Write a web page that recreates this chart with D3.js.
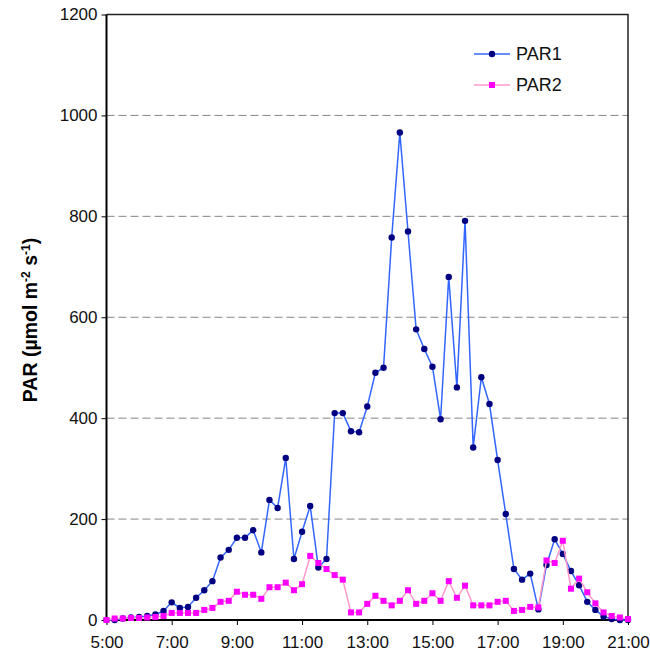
<!DOCTYPE html>
<html>
<head>
<meta charset="utf-8">
<script src="https://cdn.jsdelivr.net/npm/d3@7"></script>
<style>
  html, body { margin: 0; padding: 0; background: #fff; }
  svg { display: block; font-family: "Liberation Sans", Arial, sans-serif; }
</style>
</head>
<body>
<svg id="chart" width="650" height="655"></svg>
<script>
// Sampling times (15-minute readings)
const times = [
  "5:00","5:15","5:30","5:45","6:00","6:15","6:30","6:45",
  "7:00","7:15","7:30","7:45","8:00","8:15","8:30","8:45",
  "9:00","9:15","9:30","9:45","10:00","10:15","10:30","10:45",
  "11:00","11:15","11:30","11:45","12:00","12:15","12:30","12:45",
  "13:00","13:15","13:30","13:45","14:00","14:15","14:30","14:45",
  "15:00","15:15","15:30","15:45","16:00","16:15","16:30","16:45",
  "17:00","17:15","17:30","17:45","18:00","18:15","18:30","18:45",
  "19:00","19:15","19:30","19:45","20:00","20:15","20:30","20:45",
  "21:00"
];

// PAR readings, µmol m-2 s-1
const par1 = [
  0, 0, 3, 5, 6, 8, 11, 18,
  35, 24, 26, 44, 59, 77, 124, 139,
  163, 163, 178, 134, 238, 222, 321, 121,
  175, 226, 104, 121, 410, 410, 374, 372,
  423, 490, 500, 758, 966, 770, 576, 537,
  502, 398, 680, 461, 791, 342, 481, 428,
  317, 210, 101, 80, 92, 21, 109, 160,
  131, 97, 69, 36, 20, 7, 2, 0,
  0
];
const par2 = [
  0, 3, 3, 4, 4, 5, 6, 8,
  14, 14, 14, 14, 20, 24, 36, 38,
  56, 50, 50, 42, 65, 65, 74, 59,
  71, 127, 113, 101, 89, 80, 15, 15,
  32, 48, 38, 29, 38, 59, 32, 38,
  53, 38, 77, 44, 68, 29, 29, 29,
  36, 38, 18, 20, 26, 25, 118, 113,
  157, 62, 82, 55, 33, 15, 8, 5,
  2
];

const seriesNames = ["PAR1", "PAR2"];
const xTickLabels = ["5:00","7:00","9:00","11:00","13:00","15:00","17:00","19:00","21:00"];
const yTickValues = [0, 200, 400, 600, 800, 1000, 1200];
const gridValues = [200, 400, 600, 800, 1000];

const toMin = s => { const [h, m] = s.split(":").map(Number); return h * 60 + m; };

const svg = d3.select("#chart");
const plotL = 106.5, plotR = 628, plotT = 14.5, plotB = 620;
const tickFont = 17;

const x = d3.scaleLinear().domain([toMin("5:00"), toMin("21:00")]).range([plotL, plotR]);
const y = d3.scaleLinear().domain([0, 1200]).range([plotB, plotT]);

// dashed horizontal gridlines
svg.append("g").selectAll("line").data(gridValues).join("line")
  .attr("x1", plotL).attr("x2", plotR)
  .attr("y1", d => y(d)).attr("y2", d => y(d))
  .attr("stroke", "#858585").attr("stroke-width", 1)
  .attr("stroke-dasharray", "8,4");

// top and right frame
svg.append("path")
  .attr("d", `M${plotL},${plotT}H${plotR}V${plotB}`)
  .attr("fill", "none").attr("stroke", "#222").attr("stroke-width", 1.5);

// y axis
const yAxis = d3.axisLeft(y).tickValues(yTickValues).tickSize(5).tickPadding(4).tickFormat(d3.format("d"));
const gy = svg.append("g").attr("transform", `translate(${plotL},0)`).call(yAxis);
gy.select(".domain").remove();
gy.selectAll(".tick line").attr("stroke", "#000").attr("stroke-width", 1);
gy.selectAll(".tick text").attr("font-size", tickFont).attr("fill", "#111")
  .attr("font-family", "Liberation Sans, Arial, sans-serif");

// x axis
const xAxis = d3.axisBottom(x).tickValues(xTickLabels.map(toMin)).tickSize(5).tickPadding(11)
  .tickFormat((d, i) => xTickLabels[i]);
const gx = svg.append("g").attr("transform", `translate(0,${plotB})`).call(xAxis);
gx.select(".domain").remove();
gx.selectAll(".tick line").attr("stroke", "#000").attr("stroke-width", 1);
gx.selectAll(".tick text").attr("font-size", tickFont).attr("fill", "#111")
  .attr("font-family", "Liberation Sans, Arial, sans-serif");

// main axis lines
svg.append("line").attr("x1", plotL).attr("x2", plotL).attr("y1", plotT).attr("y2", plotB + 1)
  .attr("stroke", "#000").attr("stroke-width", 2);
svg.append("line").attr("x1", plotL - 1).attr("x2", plotR).attr("y1", plotB).attr("y2", plotB)
  .attr("stroke", "#000").attr("stroke-width", 2);

// y axis title
const title = svg.append("text")
  .attr("transform", `translate(37,320) rotate(-90)`)
  .attr("text-anchor", "middle")
  .attr("font-size", 19.5).attr("font-weight", "bold").attr("fill", "#000");
title.append("tspan").text("PAR  (\u00b5mol m");
title.append("tspan").attr("dy", -7).attr("font-size", 12).text("-2");
title.append("tspan").attr("dy", 7).text(" s");
title.append("tspan").attr("dy", -7).attr("font-size", 12).text("-1");
title.append("tspan").attr("dy", 7).text(")");

const line = vals => d3.line().x((d, i) => x(toMin(times[i]))).y(d => y(d))(vals);

// PAR1
svg.append("path").attr("d", line(par1))
  .attr("fill", "none").attr("stroke", "#3366ff").attr("stroke-width", 1.5);
svg.append("g").selectAll("circle").data(par1).join("circle")
  .attr("cx", (d, i) => x(toMin(times[i]))).attr("cy", d => y(d))
  .attr("r", 3.2).attr("fill", "#000080");

// PAR2
svg.append("path").attr("d", line(par2))
  .attr("fill", "none").attr("stroke", "#ff99cc").attr("stroke-width", 1.5);
svg.append("g").selectAll("rect").data(par2).join("rect")
  .attr("x", (d, i) => x(toMin(times[i])) - 3).attr("y", d => y(d) - 3)
  .attr("width", 6).attr("height", 6).attr("fill", "#ff00ff");

// legend
const legend = svg.append("g");
const legendRows = [
  { name: seriesNames[0], stroke: "#3366ff", fill: "#000080", shape: "circle", cy: 54 },
  { name: seriesNames[1], stroke: "#ff99cc", fill: "#ff00ff", shape: "square", cy: 85 }
];
legendRows.forEach(r => {
  legend.append("line").attr("x1", 474).attr("x2", 510).attr("y1", r.cy).attr("y2", r.cy)
    .attr("stroke", r.stroke).attr("stroke-width", 1.5);
  if (r.shape === "circle") {
    legend.append("circle").attr("cx", 492).attr("cy", r.cy).attr("r", 3.2).attr("fill", r.fill);
  } else {
    legend.append("rect").attr("x", 489).attr("y", r.cy - 3).attr("width", 6).attr("height", 6).attr("fill", r.fill);
  }
  legend.append("text").attr("x", 516).attr("y", r.cy + 6)
    .attr("font-size", 18).attr("fill", "#111").text(r.name);
});
</script>
</body>
</html>
